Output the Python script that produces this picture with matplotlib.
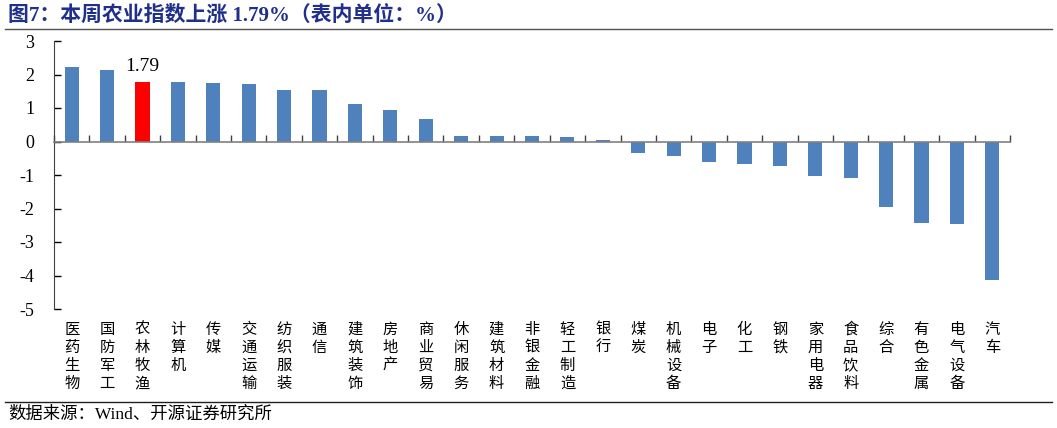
import matplotlib
matplotlib.use("Agg")
import matplotlib.pyplot as plt
import matplotlib.transforms as mtransforms

plt.rcParams['font.family'] = ['Liberation Serif', 'Noto Sans CJK SC', 'DejaVu Sans']

# data
industries = ["医药生物", "国防军工", "农林牧渔", "计算机", "传媒", "交通运输", "纺织服装",
              "通信", "建筑装饰", "房地产", "商业贸易", "休闲服务", "建筑材料", "非银金融",
              "轻工制造", "银行", "煤炭", "机械设备", "电子", "化工", "钢铁", "家用电器",
              "食品饮料", "综合", "有色金属", "电气设备", "汽车"]
changes = [2.21, 2.14, 1.79, 1.77, 1.74, 1.71, 1.55, 1.53, 1.12, 0.94, 0.68, 0.17, 0.17,
           0.17, 0.13, 0.04, -0.33, -0.43, -0.60, -0.68, -0.72, -1.02, -1.08, -1.96,
           -2.43, -2.46, -4.14]
highlight = "农林牧渔"
yticks = [3, 2, 1, 0, -1, -2, -3, -4, -5]

W, H = 1057, 428
fig = plt.figure(figsize=(W / 100, H / 100), dpi=100)
ax = fig.add_axes([54 / W, 1 - 309 / H, (1010 - 54) / W, (309 - 41) / H])

x = list(range(len(industries)))
colors = ["#FF0000" if n == highlight else "#4F81BD" for n in industries]
ax.bar(x, changes, width=0.4, color=colors, zorder=2)

ax.set_xlim(-0.5, len(industries) - 0.5)
ax.set_ylim(-5, 3)
ax.set_yticks(yticks)
ax.set_yticklabels([str(v) for v in yticks])
ax.tick_params(axis='y', direction='in', length=5, pad=14, labelsize=13, width=1)

# x axis at zero with separators between categories
ax.spines['bottom'].set_position(('data', 0))
ax.spines['bottom'].set_color('#808080')
ax.spines['bottom'].set_linewidth(1.2)
ax.spines['top'].set_visible(False)
ax.spines['right'].set_visible(False)
ax.spines['left'].set_color('#404040')
ax.set_xticks([i - 0.5 for i in range(len(industries) + 1)])
ax.set_xticklabels([])
ax.tick_params(axis='x', direction='in', length=5, color='#404040', width=1)

# vertical category labels under the plot
trans = mtransforms.blended_transform_factory(ax.transData, fig.transFigure)
for i, name in enumerate(industries):
    ax.text(i, 1 - 321 / H, "\n".join(name), transform=trans, ha='center', va='top',
            fontsize=11, linespacing=1.08, family=['Noto Sans CJK SC', 'DejaVu Sans'])

# value label on highlighted bar
hi = industries.index(highlight)
ax.annotate(f"{changes[hi]:.2f}", (hi, changes[hi]), xytext=(0, 5),
            textcoords='offset points', ha='center', va='bottom', fontsize=14)

# title and source with rules
fig.text(8 / W, 1 - 16 / H, "图7：本周农业指数上涨 1.79%（表内单位：%）", ha='left', va='center',
         fontsize=15, fontweight='bold', color='#1F2F8A',
         family=['Liberation Serif', 'Noto Sans CJK SC', 'DejaVu Sans'])
fig.add_artist(plt.Line2D([5 / W, 1052 / W], [1 - 29 / H, 1 - 29 / H], color='#505050', lw=1))
fig.add_artist(plt.Line2D([5 / W, 1052 / W], [1 - 402 / H, 1 - 402 / H], color='#202020', lw=1))
fig.text(8 / W, 1 - 415 / H, "数据来源：Wind、开源证券研究所", ha='left', va='center',
         fontsize=12.5, family=['Liberation Serif', 'Noto Sans CJK SC', 'DejaVu Sans'])

fig.savefig("out.png", dpi=100)
